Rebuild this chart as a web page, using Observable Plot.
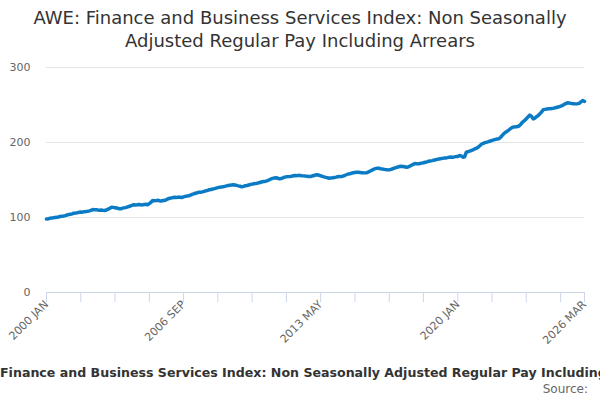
<!DOCTYPE html>
<html>
<head>
<meta charset="utf-8">
<script src="https://cdn.jsdelivr.net/npm/d3@7"></script>
<script src="https://cdn.jsdelivr.net/npm/@observablehq/plot@0.6"></script>
<style>
  html, body { margin: 0; padding: 0; background: #fff; }
  body { width: 600px; height: 400px; position: relative; overflow: hidden; font-family: "DejaVu Sans", sans-serif; }
  #title { position: absolute; top: 6px; left: 0; width: 600px; text-align: center; font-size: 18px; line-height: 23px; color: #333; }
  #chart { position: absolute; top: 55px; left: 0; }
  #caption { position: absolute; top: 365px; left: 0; width: 600px; overflow: hidden; white-space: nowrap; font-size: 12.6px; font-weight: bold; color: #333; }
  #source { position: absolute; top: 382px; right: 12px; font-size: 12px; color: #666; }
</style>
</head>
<body>
<div id="title">AWE: Finance and Business Services Index: Non Seasonally<br>Adjusted Regular Pay Including Arrears</div>
<div id="chart"></div>
<div id="caption">Finance and Business Services Index: Non Seasonally Adjusted Regular Pay Including Arrears</div>
<div id="source">Source:</div>
<script>
// Monthly index values, 2000 JAN .. 2026 MAR
const startYear = 2000;
const values = [
  98.0, 98.3, 98.9, 99.2, 99.6, 100.0, 100.4, 100.6, 101.3, 101.8, 102.1, 102.5,
  103.4, 103.9, 104.2, 104.8, 105.8, 106.0, 106.3, 106.9, 107.4, 107.1, 107.8, 108.0,
  108.3, 108.9, 109.6, 110.7, 110.2, 110.5, 110.1, 109.8, 110.0, 109.5, 109.3, 110.0,
  111.2, 112.4, 113.8, 113.5, 113.1, 112.6, 112.0, 111.6, 112.1, 112.8, 113.2, 113.9,
  114.6, 115.3, 116.4, 117.0, 116.6, 116.9, 117.3, 117.0, 116.8, 117.3, 117.6, 117.0,
  118.5, 120.4, 122.7, 122.2, 122.5, 122.9, 122.4, 122.0, 122.6, 122.8, 123.8, 125.0,
  125.6, 126.2, 126.6, 127.0, 126.8, 127.2, 127.0, 126.7, 127.5, 128.2, 128.6, 129.0,
  129.8, 130.9, 131.6, 132.3, 133.0, 133.8, 133.7, 134.2, 134.9, 135.6, 136.2, 137.0,
  137.4, 138.0, 138.5, 139.2, 139.8, 140.3, 140.5, 141.0, 141.5, 142.2, 142.7, 143.0,
  143.3, 143.6, 143.4, 142.8, 142.2, 141.7, 141.0, 141.5, 142.3, 142.7, 143.4, 144.0,
  144.5, 145.0, 145.2, 145.6, 146.4, 147.0, 147.6, 148.1, 148.4, 149.2, 150.3, 151.4,
  152.2, 152.8, 153.0, 152.3, 151.6, 152.0, 152.8, 153.8, 154.2, 154.5, 154.7, 155.1,
  155.6, 156.0, 155.8, 156.2, 156.0, 155.7, 155.5, 155.2, 155.0, 154.8, 154.7, 155.3,
  156.0, 156.6, 157.0, 156.4, 155.6, 154.9, 154.1, 153.5, 153.0, 152.4, 152.8, 153.0,
  153.4, 153.8, 154.3, 154.7, 154.5, 155.2, 156.0, 157.0, 158.0, 158.4, 159.0, 159.6,
  160.0, 160.4, 160.4, 160.1, 159.8, 159.6, 159.5, 159.8, 160.8, 162.0, 163.2, 164.4,
  165.2, 165.8, 165.6, 165.0, 164.6, 164.2, 163.8, 163.6, 163.5, 164.2, 165.0, 165.8,
  166.6, 167.3, 168.0, 168.4, 168.1, 167.6, 167.0, 167.4, 168.4, 169.6, 170.8, 172.0,
  171.8, 171.5, 172.0, 172.5, 173.0, 173.6, 174.2, 175.0, 175.4, 175.8, 176.4, 177.0,
  177.5, 178.0, 178.4, 178.8, 179.2, 179.4, 179.8, 180.4, 180.6, 180.2, 180.8, 181.2,
  181.2, 182.7, 182.2, 180.4, 181.0, 187.0, 187.8, 188.5, 189.4, 190.2, 191.6, 192.4,
  194.0, 196.0, 198.0, 199.0, 199.8, 200.5, 201.2, 202.0, 202.7, 203.5, 204.2, 204.6,
  205.0, 207.0, 209.5, 212.0, 213.8, 215.2, 217.0, 218.8, 220.4, 220.8, 221.0, 221.2,
  222.5, 225.0, 227.5, 229.3, 231.5, 234.0, 236.5, 235.0, 231.5, 232.5, 234.5, 236.0,
  238.5, 241.0, 243.8, 244.2, 244.6, 244.9, 245.0, 245.4, 245.8, 246.4, 247.0, 247.6,
  248.4, 249.3, 250.6, 251.8, 252.9, 252.6, 252.2, 251.8, 251.6, 251.5, 251.8, 252.4,
  254.5, 256.0, 254.8
];
// Tick positions (month offsets from 2000 JAN) and labels
const tickMonths = [0, 20, 40, 60, 80, 100, 120, 140, 160, 180, 200, 220, 240, 260, 280, 300, 314];
const labelMonths = [0, 80, 160, 240, 314];
const tickLabels = ["2000 JAN", "2006 SEP", "2013 MAY", "2020 JAN", "2026 MAR"];
const yTicks = [0, 100, 200, 300];

const monthDate = (m) => new Date(Date.UTC(startYear, m, 1));
const data = values.map((v, i) => ({date: monthDate(i), value: v}));
const labelMap = new Map(labelMonths.map((m, i) => [+monthDate(m), tickLabels[i]]));

const chart = Plot.plot({
  width: 600,
  height: 300,
  marginTop: 12,
  marginBottom: 63,
  marginLeft: 46,
  marginRight: 16,
  style: {fontFamily: "DejaVu Sans, sans-serif", fontSize: "11px", color: "#666", background: "#fff"},
  x: {type: "utc", domain: [monthDate(0), monthDate(values.length - 1)]},
  y: {domain: [0, 300]},
  marks: [
    Plot.gridY(yTicks, {stroke: "#e6e6e6", strokeOpacity: 1}),
    Plot.axisY(yTicks, {tickSize: 0, tickPadding: 16, fill: "#666", fontSize: 11, label: null}),
    Plot.axisX(tickMonths.map(monthDate), {tickSize: 10, stroke: "#ccd6eb", strokeOpacity: 1, tickFormat: () => "", label: null}),
    Plot.axisX(labelMonths.map(monthDate), {tickSize: 0, tickPadding: 10, tickRotate: -45, fill: "#666", fontSize: 11, label: null, tickFormat: (d) => labelMap.get(+d)}),
    Plot.ruleY([0], {stroke: "#ccd6eb"}),
    Plot.line(data, {x: "date", y: "value", stroke: "#0a7bc4", strokeWidth: 3.5, strokeLinejoin: "round"})
  ]
});
document.getElementById("chart").appendChild(chart);
</script>
</body>
</html>
